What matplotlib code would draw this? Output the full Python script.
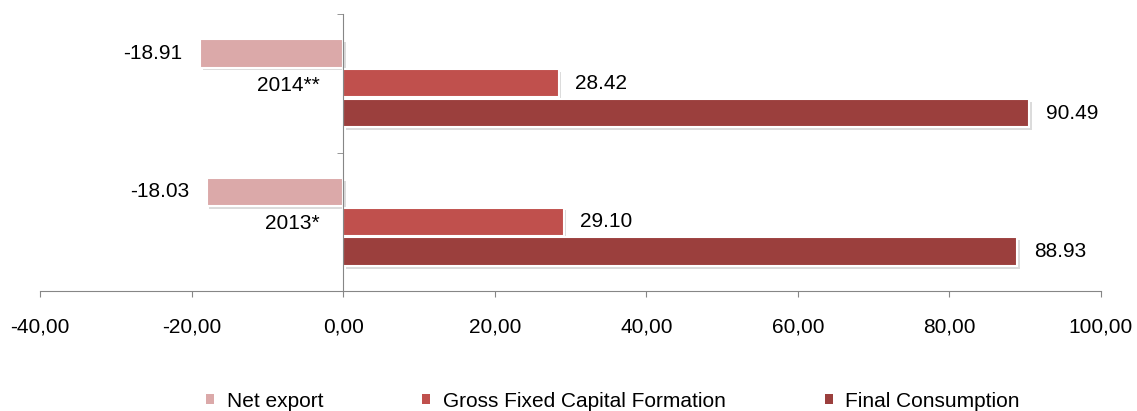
import matplotlib
matplotlib.use("Agg")
import matplotlib.pyplot as plt
import matplotlib.patheffects as pe
from matplotlib.patches import Patch
from matplotlib.ticker import FuncFormatter
import numpy as np

plt.rcParams['font.family'] = ['Liberation Sans', 'DejaVu Sans']

categories = ["2013*", "2014**"]
series_names = ["Net export", "Gross Fixed Capital Formation", "Final Consumption"]
net_export = [-18.03, -18.91]
gfcf = [29.10, 28.42]
final_consumption = [88.93, 90.49]
x_ticks = [-40, -20, 0, 20, 40, 60, 80, 100]

colors = ["#DBA9A9", "#C0504D", "#9B3F3D"]
values = [net_export, gfcf, final_consumption]
FS = 15

fig = plt.figure(figsize=(11.37, 4.11), dpi=100)
ax = fig.add_axes([40/1137, 1-291/411, (1101-40)/1137, (291-14)/411])

y = np.arange(len(categories))
h = 0.205
offsets = [0.215, 0.0, -0.215]
shadow = [pe.SimplePatchShadow(offset=(2, -2), shadow_rgbFace='#999999', alpha=0.35), pe.Normal()]
for vals, off, col, name in zip(values, offsets, colors, series_names):
    bars = ax.barh(y + off, vals, height=h, color=col, edgecolor='white', linewidth=1.5,
                   label=name, zorder=3)
    for b in bars:
        b.set_path_effects(shadow)
    for yi, v in zip(y, vals):
        if v < 0:
            ax.text(v - 2.3, yi + off, f"{v:.2f}", ha='right', va='center', fontsize=FS, zorder=5)
        else:
            ax.text(v + 2.2, yi + off, f"{v:.2f}", ha='left', va='center', fontsize=FS, zorder=5)

ax.set_xlim(-40, 100)
ax.set_ylim(-0.5, 1.5)
ax.set_xticks(x_ticks)
ax.xaxis.set_major_formatter(FuncFormatter(lambda v, p: f"{v:.2f}".replace('.', ',')))
ax.tick_params(axis='x', direction='out', length=4, color='#868686', labelsize=FS, pad=15)

ax.set_yticks(y)
ax.set_yticklabels(categories)
ax.set_yticks([-0.5, 0.5, 1.5], minor=True)
ax.tick_params(axis='y', which='major', length=0, labelsize=FS, pad=17)
ax.tick_params(axis='y', which='minor', length=4.5, direction='out', color='#868686')
for lbl in ax.get_yticklabels():
    lbl.set_zorder(6)

ax.spines['left'].set_position(('data', 0))
ax.spines['left'].set_color('#868686')
ax.spines['bottom'].set_color('#868686')
ax.spines['top'].set_visible(False)
ax.spines['right'].set_visible(False)
ax.spines['left'].set_zorder(4)

handles = [Patch(facecolor=c, edgecolor='none', label=n) for c, n in zip(colors, series_names)]
fig.legend(handles=handles, loc='center', bbox_to_anchor=(0.539, 1-401/411), ncol=3,
           frameon=False, fontsize=FS, handlelength=0.4, handleheight=0.4,
           handletextpad=0.6, columnspacing=4.75, borderpad=0.1)

fig.savefig("out.png", dpi=100)
